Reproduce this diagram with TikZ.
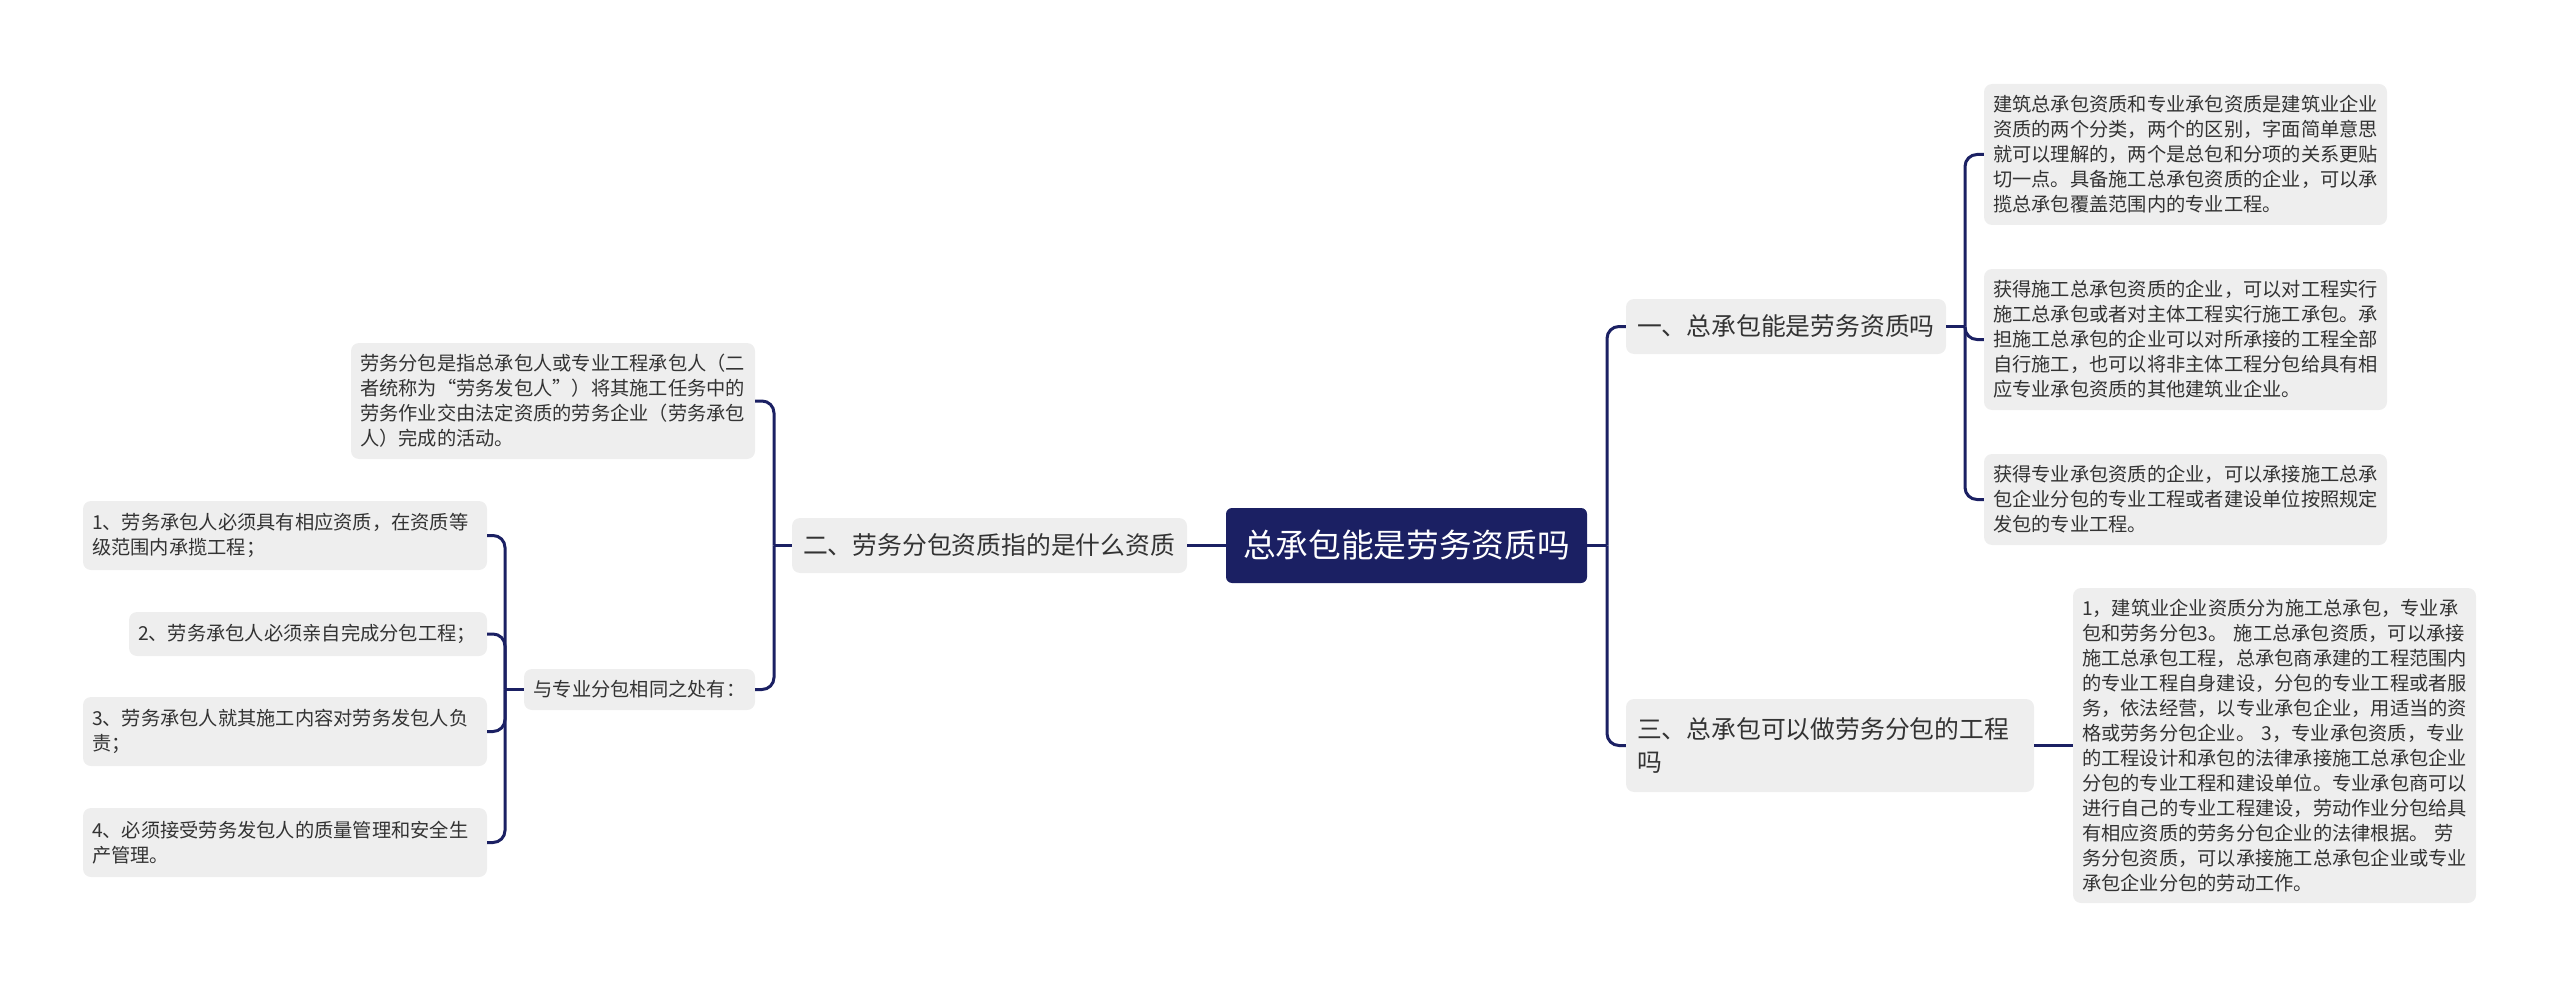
\documentclass[tikz,border=0pt]{standalone}
\usepackage{fontspec}
\setmainfont{Noto Sans CJK SC}
\definecolor{navy}{HTML}{1B2063}
\definecolor{boxgray}{HTML}{EEEEEE}
\definecolor{txt}{HTML}{333333}
\begin{document}
\begin{tikzpicture}[x=1pt,y=-1pt,
  box/.style={fill=boxgray, rounded corners=8pt, text=txt, inner xsep=9pt, inner ysep=0pt, align=left},
  small/.style={box, font=\fontsize{19.25pt}{25pt}\selectfont},
  mid/.style={box, inner xsep=11pt, font=\fontsize{24.8pt}{33pt}\selectfont},
  rootst/.style={fill=navy, rounded corners=6pt, text=white, inner xsep=17pt, inner ysep=0pt, align=center, font=\fontsize{32.7pt}{40pt}\selectfont},
  link/.style={draw=navy, line width=3pt, rounded corners=12pt}]
\useasboundingbox (0,0) rectangle (2560,987);

\node[rootst, minimum width=361pt, minimum height=75pt] (root) at (1406.5,545.5) {总承包能是劳务资质吗};

\node[mid, text width=373pt, minimum height=55pt] (l1) at (989.5,545.5) {二、劳务分包资质指的是什么资质};
\node[mid, text width=298pt, minimum height=55pt] (r1) at (1786,326.5) {一、总承包能是劳务资质吗};
\node[mid, text width=386pt, minimum height=93pt] (r2) at (1830,745.5) {三、总承包可以做劳务分包的工程\\吗};

\node[small, text width=385pt, minimum height=141pt] (a) at (2185.5,154.5) {建筑总承包资质和专业承包资质是建筑业企业\\资质的两个分类，两个的区别，字面简单意思\\就可以理解的，两个是总包和分项的关系更贴\\切一点。具备施工总承包资质的企业，可以承\\揽总承包覆盖范围内的专业工程。};
\node[small, text width=385pt, minimum height=141pt] (b) at (2185.5,339.5) {获得施工总承包资质的企业，可以对工程实行\\施工总承包或者对主体工程实行施工承包。承\\担施工总承包的企业可以对所承接的工程全部\\自行施工，也可以将非主体工程分包给具有相\\应专业承包资质的其他建筑业企业。};
\node[small, text width=385pt, minimum height=91pt] (c) at (2185.5,499.5) {获得专业承包资质的企业，可以承接施工总承\\包企业分包的专业工程或者建设单位按照规定\\发包的专业工程。};
\node[small, text width=385pt, minimum height=315pt] (d) at (2274.5,745.5) {1，建筑业企业资质分为施工总承包，专业承\\包和劳务分包3。 施工总承包资质，可以承接\\施工总承包工程，总承包商承建的工程范围内\\的专业工程自身建设，分包的专业工程或者服\\务，依法经营，以专业承包企业，用适当的资\\格或劳务分包企业。 3，专业承包资质，专业\\的工程设计和承包的法律承接施工总承包企业\\分包的专业工程和建设单位。专业承包商可以\\进行自己的专业工程建设，劳动作业分包给具\\有相应资质的劳务分包企业的法律根据。 劳\\务分包资质，可以承接施工总承包企业或专业\\承包企业分包的劳动工作。};

\node[small, text width=386pt, minimum height=116pt] (t) at (553,401) {劳务分包是指总承包人或专业工程承包人（二\\者统称为“劳务发包人”）将其施工任务中的\\劳务作业交由法定资质的劳务企业（劳务承包\\人）完成的活动。};
\node[small, inner xsep=9.5pt, text width=212pt, minimum height=41pt] (s) at (639.5,689.5) {与专业分包相同之处有：};

\node[small, text width=386pt, minimum height=69pt] (s1) at (285,535.5) {1、劳务承包人必须具有相应资质，在资质等\\级范围内承揽工程；};
\node[small, text width=340pt, minimum height=44pt] (s2) at (308,634) {2、劳务承包人必须亲自完成分包工程；};
\node[small, text width=386pt, minimum height=69pt] (s3) at (285,731.5) {3、劳务承包人就其施工内容对劳务发包人负\\责；};
\node[small, text width=386pt, minimum height=69pt] (s4) at (285,842.5) {4、必须接受劳务发包人的质量管理和安全生\\产管理。};

% connectors
\coordinate (jr) at (1607,545.5);
\draw[link] (root.east) -- (jr);
\draw[link] (jr) |- (r1.west);
\draw[link] (jr) |- (r2.west);

\draw[link] (root.west) -- (l1.east);

\coordinate (jl) at (774,545.5);
\draw[link] (l1.west) -- (jl);
\draw[link] (jl) |- (t.east);
\draw[link] (jl) |- (s.east);

\coordinate (js) at (505,689.5);
\draw[link] (s.west) -- (js);
\draw[link] (js) |- (s1.east);
\draw[link] (js) |- (s2.east);
\draw[link] (js) |- (s3.east);
\draw[link] (js) |- (s4.east);

\coordinate (j1) at (1965,326.5);
\draw[link] (r1.east) -- (j1);
\draw[link] (j1) |- (a.west);
\draw[link] (j1) |- (b.west);
\draw[link] (j1) |- (c.west);

\draw[link] (r2.east) -- (d.west);
\end{tikzpicture}
\end{document}
